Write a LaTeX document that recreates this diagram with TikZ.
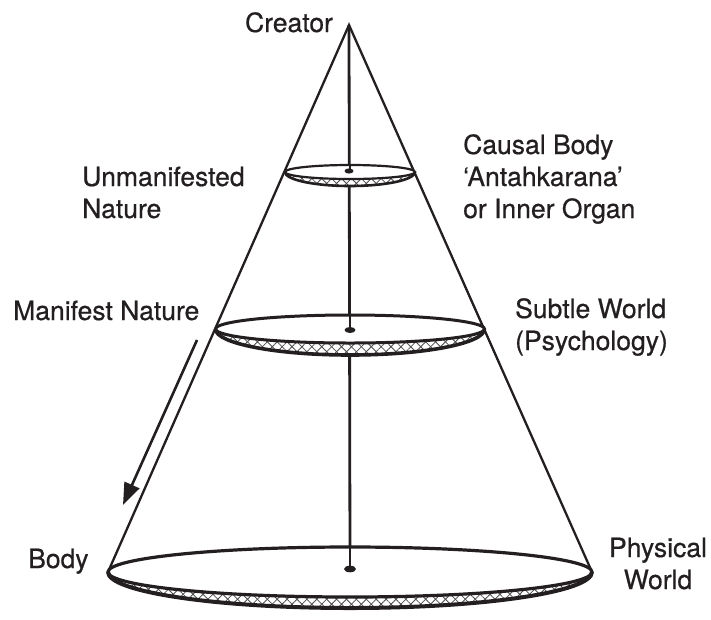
\documentclass[tikz,border=0pt]{standalone}
\usepackage{fontspec}
\setmainfont{TeX Gyre Heros}
\newfontfamily\lblfont[FakeBold=0.6]{TeX Gyre Heros}
\usetikzlibrary{arrows.meta,patterns.meta}
\definecolor{ink}{HTML}{231F20}
\begin{document}
\begin{tikzpicture}[x=1pt,y=1pt,
  lbl/.style={inner sep=0pt,font=\lblfont\fontsize{26.5}{32}\selectfont,text=ink},
  coneline/.style={draw=ink,line width=2.3pt},
  pole/.style={draw=ink,line width=2.8pt},
  rim/.style={draw=ink,line width=#1},
  hatchA/.style={pattern={Lines[angle=45,distance=7pt,line width=0.8pt]},pattern color=black!70},
  hatchB/.style={pattern={Lines[angle=-45,distance=7pt,line width=0.8pt]},pattern color=black!70},
  dotmark/.style={fill=ink,draw=none}
]
\useasboundingbox (0,0) rectangle (711,-619);

% key points
\coordinate (apex) at (349,-25);
\coordinate (baseL) at (108,-572);
\coordinate (baseR) at (592,-572);
\coordinate (baseDot) at (350,-569);

% cone and pole
\draw[coneline] (baseL) -- (apex) -- (baseR);
\draw[pole] (apex) -- (baseDot);

% disc: cx, cy, rx, ry upper, ry lower, upper width, lower width, dot y
\newcommand{\mydisc}[8]{%
  \fill[white] (#1-#3,#2) arc[start angle=180,end angle=360,x radius=#3,y radius=#5]
     arc[start angle=0,end angle=180,x radius=#3,y radius=#4] -- cycle;
  \path[hatchA] (#1-#3,#2) arc[start angle=180,end angle=360,x radius=#3,y radius=#5]
     arc[start angle=0,end angle=-180,x radius=#3,y radius=#4] -- cycle;
  \path[hatchB] (#1-#3,#2) arc[start angle=180,end angle=360,x radius=#3,y radius=#5]
     arc[start angle=0,end angle=-180,x radius=#3,y radius=#4] -- cycle;
  \draw[rim=#7] (#1-#3,#2) arc[start angle=180,end angle=360,x radius=#3,y radius=#5];
  \draw[rim=#6] (#1,#2) ellipse[x radius=#3,y radius=#4];
  \draw[pole] (#1,#2+#4) -- (#1,#8);
}

% top disc
\mydisc{350}{-172}{65}{7}{14}{2.2pt}{2.6pt}{-171}
\fill[dotmark] (349,-171) ellipse[x radius=4.5,y radius=2.6];
% middle disc
\mydisc{350}{-329}{134.5}{14}{26}{3pt}{3.6pt}{-330}
\fill[dotmark] (350,-330) ellipse[x radius=5.5,y radius=3];
% base disc
\mydisc{350}{-572}{242}{25}{36}{3.2pt}{4pt}{-569}
\fill[dotmark] (350,-569) ellipse[x radius=6,y radius=3.3];

% arrow
\coordinate (arrS) at (197,-340);
\coordinate (arrE) at (123,-505);
\draw[draw=ink,line width=2.6pt,-{Triangle[length=22pt,width=16pt]}] (arrS) -- (arrE);

% labels
\node[lbl,anchor=base] (creator) at (289,-32) {Creator};
\node[lbl,anchor=base west] (unm1) at (82,-186) {Unmanifested};
\node[lbl,anchor=base west] (unm2) at (82,-218) {Nature};
\node[lbl,anchor=base west] (cau1) at (463,-154) {Causal Body};
\node[lbl,anchor=base west] (cau2) at (463,-186) {‘Antahkarana’};
\node[lbl,anchor=base west] (cau3) at (463,-218) {or Inner Organ};
\node[lbl,anchor=base west] (man) at (13,-320) {Manifest Nature};
\node[lbl,anchor=base west] (sub1) at (515,-318) {Subtle World};
\node[lbl,anchor=base west] (sub2) at (515,-350) {(Psychology)};
\node[lbl,anchor=base west] (body) at (28,-568) {Body};
\node[lbl,anchor=base] (phy1) at (658,-557) {Physical};
\node[lbl,anchor=base] (phy2) at (658,-589) {World};
\end{tikzpicture}
\end{document}
